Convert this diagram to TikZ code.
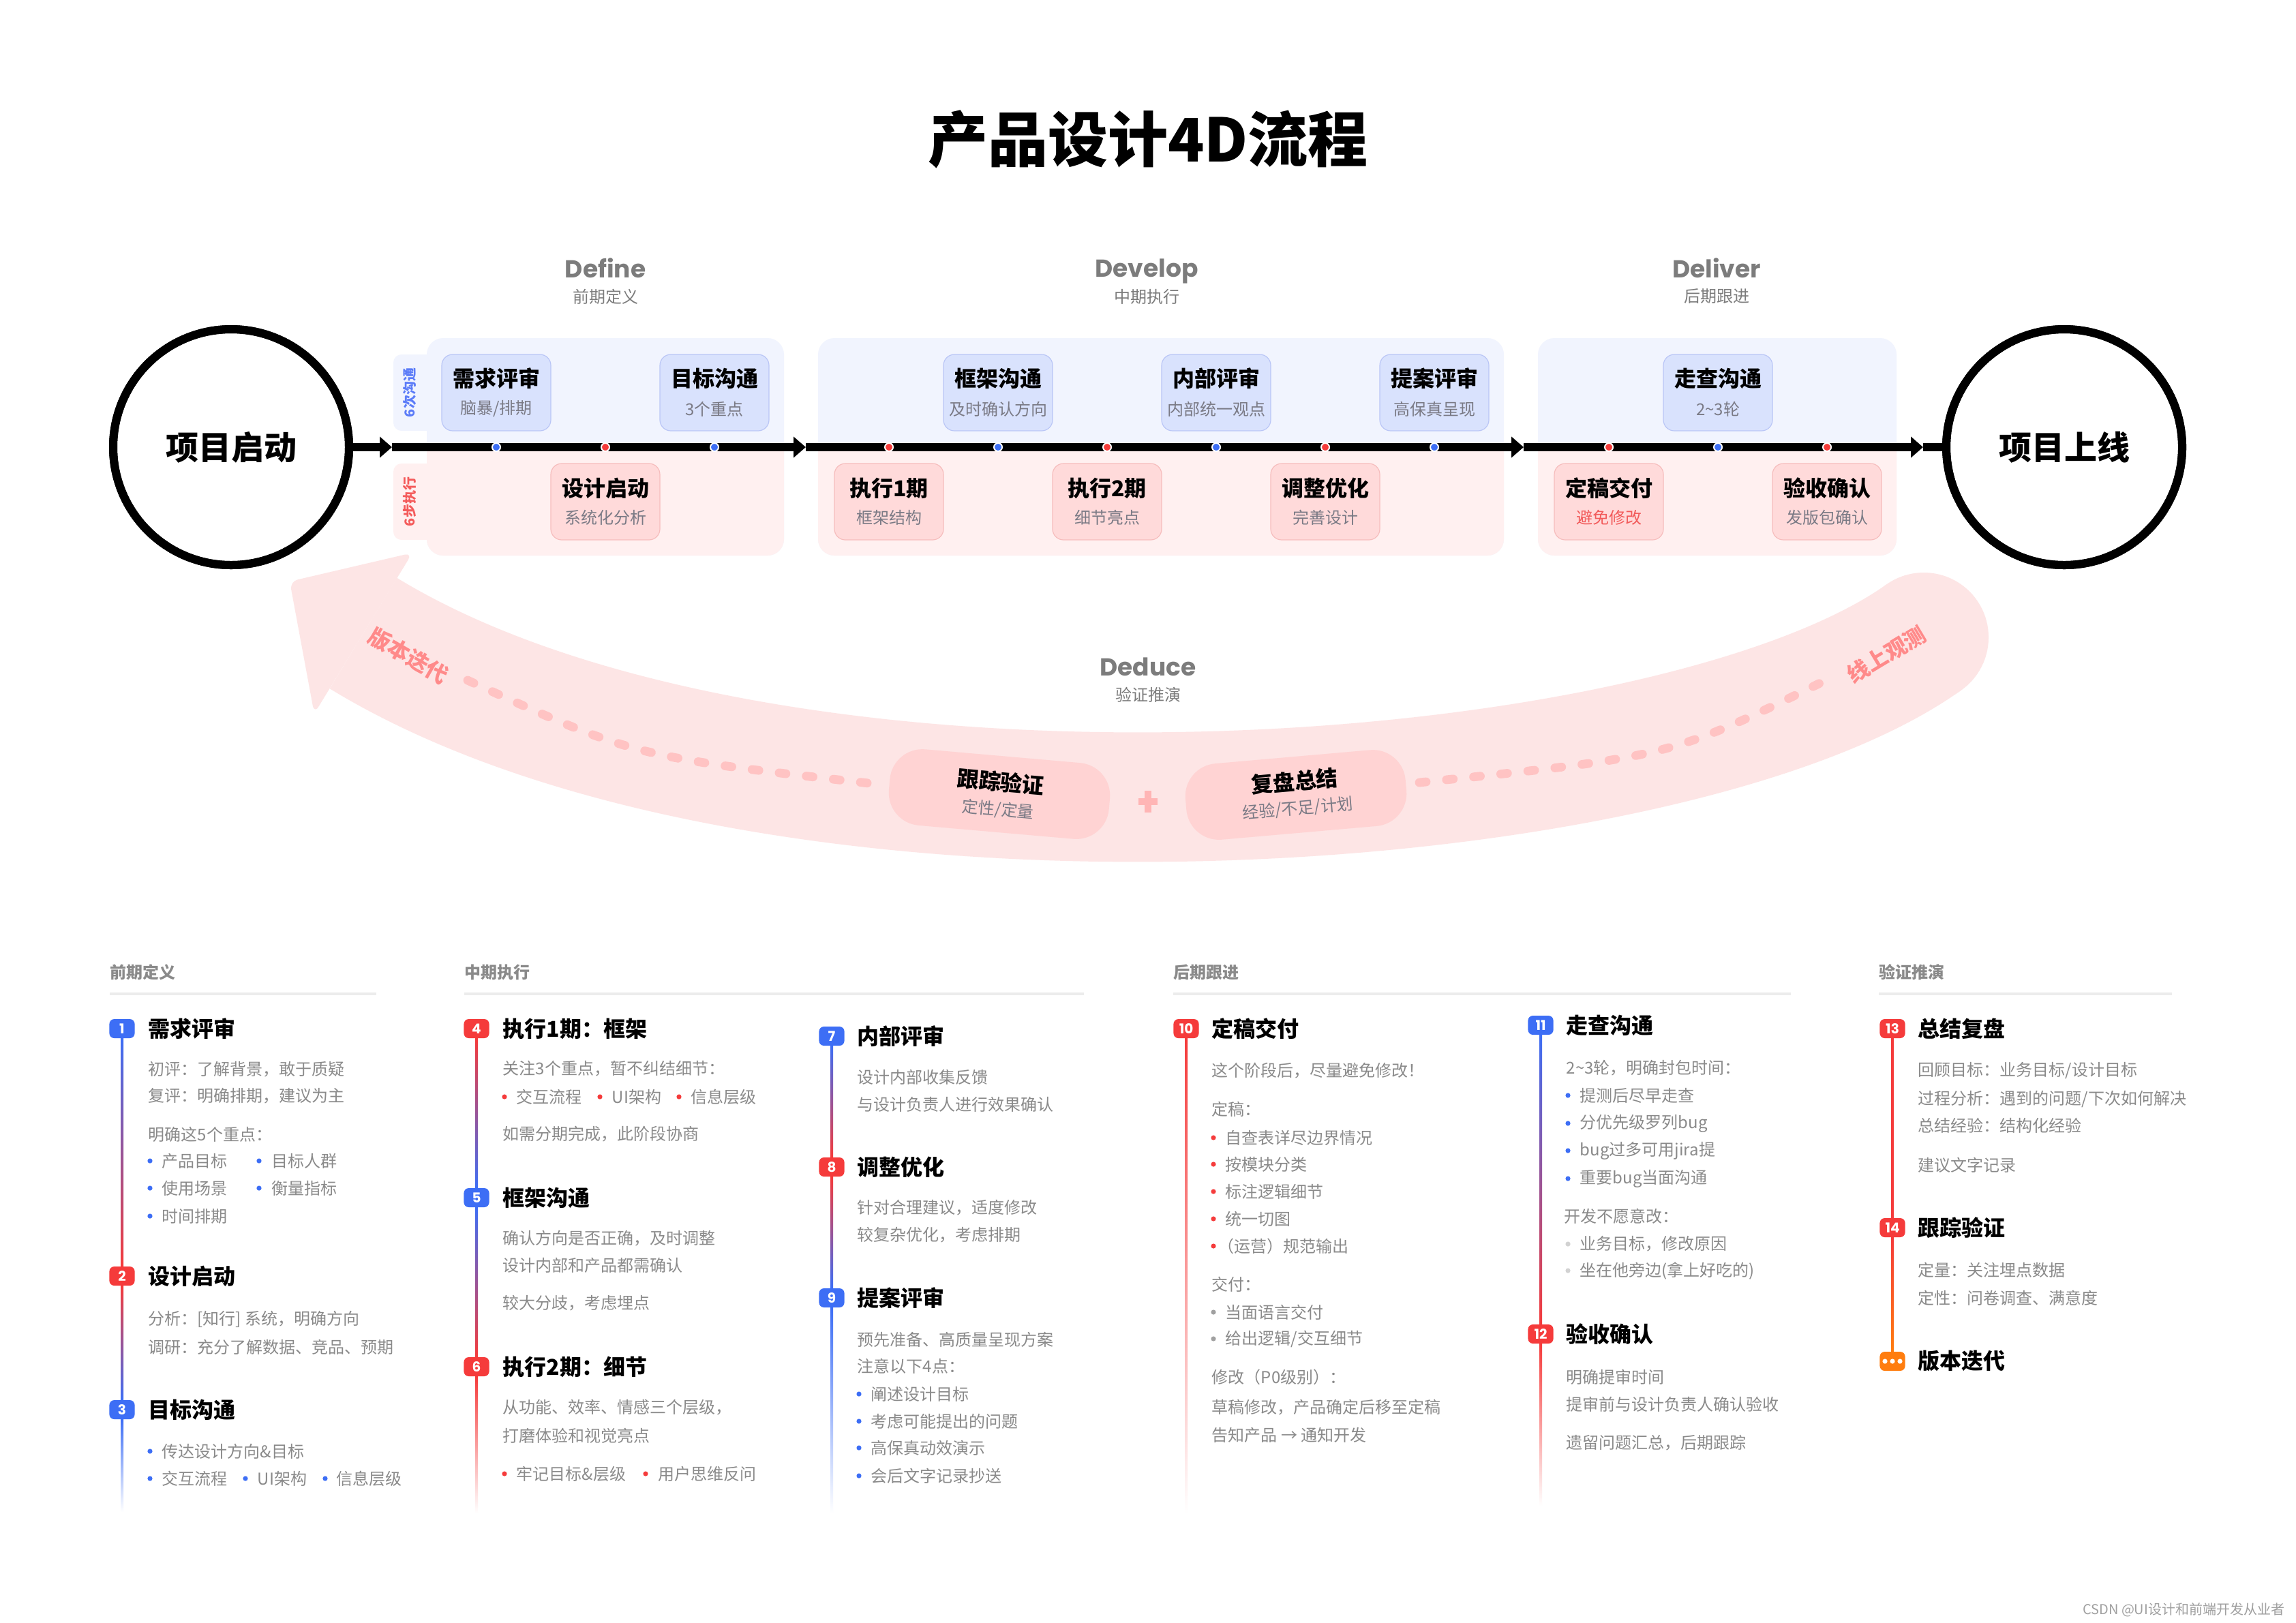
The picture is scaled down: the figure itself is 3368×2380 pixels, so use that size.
\documentclass[tikz,border=0pt]{standalone}
\usepackage{fontspec}
\setmainfont{Noto Sans CJK SC}
\newfontfamily\pop{Poppins}
\usetikzlibrary{arrows.meta}
\definecolor{cblue}{HTML}{3D6EF5}
\definecolor{cred}{HTML}{F53B3B}
\definecolor{corange}{HTML}{FF7D0F}
\definecolor{bandpink}{HTML}{FDE5E5}
\definecolor{pillpink}{HTML}{FFD3D3}
\definecolor{dashpink}{HTML}{FFC3C3}
\definecolor{pluspink}{HTML}{FFB5B5}
\definecolor{labelpink}{HTML}{FF8A8A}
\definecolor{panelB}{HTML}{F1F4FE}
\definecolor{panelR}{HTML}{FFF0F0}
\definecolor{cardBfill}{HTML}{D9E2FD}
\definecolor{cardBline}{HTML}{BAC6F6}
\definecolor{cardRfill}{HTML}{FFDADA}
\definecolor{cardRline}{HTML}{F6BDBD}
\definecolor{subgray}{HTML}{7A7A85}
\definecolor{subred}{HTML}{F25A5A}
\definecolor{bodygray}{HTML}{8A8A8A}
\definecolor{headgray}{HTML}{8A8A8A}
\definecolor{phasegray}{HTML}{7C7C7C}
\definecolor{rulegray}{HTML}{ECECEC}
\definecolor{tabblue}{HTML}{5C7CF8}
\definecolor{tabred}{HTML}{F45B5B}
\definecolor{lgray}{HTML}{A0A0A0}
\definecolor{llgray}{HTML}{D2D2D2}
\definecolor{lav}{HTML}{B9AEE6}
\newcommand\myfs[1]{\fontsize{#1}{#1}\selectfont}
\newcommand\bt[4]{\node[body] (#1) at (#2,#3) {#4};}
\newcommand\bul[6]{\fill[#1] (#2,#4) circle[radius=0.9pt]; \node[body] (#5) at (#3,#4) {#6};}
\newcommand\cardTop[4]{\node[cardB] (#1) at (#2,576) {}; \node[ctitle] (#1t) at (#2,555) {#3}; \node[csub] (#1s) at (#2,600) {#4};}
\newcommand\cardBot[5]{\node[cardR] (#1) at (#2,736) {}; \node[ctitle] (#1t) at (#2,716) {#3}; \node[csub,#5] (#1s) at (#2,759) {#4};}
\newcommand\phasepanel[2]{%
  \fill[panelB, rounded corners=6pt] (#1,496) rectangle (#2,815);
  \begin{scope}\clip (#1-5,656) rectangle (#2+5,830);
  \fill[panelR, rounded corners=6pt] (#1,496) rectangle (#2,815);\end{scope}}
\begin{document}
\begin{tikzpicture}[x=0.25pt,y=-0.25pt,
  body/.style={anchor=west,inner sep=0pt,font=\myfs{6},text=bodygray},
  ititle/.style={anchor=west,inner sep=0pt,font=\myfs{8}\bfseries,text=black},
  head/.style={anchor=west,inner sep=0pt,font=\myfs{6}\bfseries,text=headgray},
  rule/.style={draw=rulegray,line width=1pt},
  badge/.style={fill=#1,rounded corners=1.8pt,minimum width=9.3pt,minimum height=7pt,inner sep=0pt,text=white,font=\pop\bfseries\myfs{5}},
  cardB/.style={draw=cardBline,fill=cardBfill,line width=0.3pt,rounded corners=4pt,minimum width=40pt,minimum height=28pt},
  cardR/.style={draw=cardRline,fill=cardRfill,line width=0.3pt,rounded corners=4pt,minimum width=40pt,minimum height=28pt},
  ctitle/.style={inner sep=0pt,font=\myfs{8}\bfseries,text=black},
  csub/.style={inner sep=0pt,font=\myfs{6},text=subgray},
  phase/.style={inner sep=0pt,font=\pop\bfseries\myfs{9},text=phasegray,text depth=0pt},
  phasesub/.style={inner sep=0pt,font=\myfs{6},text=phasegray},
  bigc/.style={circle,draw=black,line width=3pt,fill=white,minimum size=86.5pt,inner sep=0pt,font=\myfs{12}\bfseries},
  axis/.style={line width=3pt,-{Triangle[length=4.5pt,width=7.5pt]}},
  dotB/.style={fill=cblue,draw=white,line width=0.5pt},
  dotR/.style={fill=cred,draw=white,line width=0.5pt},
  tabt/.style={inner sep=0pt,font=\myfs{5}\bfseries,rotate=90},
  pill/.style={fill=pillpink,rounded corners=12pt,minimum width=81pt,minimum height=28pt,inner sep=0pt},
  ptitle/.style={inner sep=0pt,font=\myfs{8}\bfseries,text=black},
  psub/.style={inner sep=0pt,font=\myfs{6},text=subgray},
  dashline/.style={draw=dashpink,line width=3.2pt,line cap=round,dash pattern=on 2.5pt off 7.5pt},
  plusst/.style={draw=pluspink,line width=2.4pt},
  bandlabel/.style={inner sep=0pt,font=\myfs{8}\bfseries,text=labelpink}
]
\useasboundingbox (0,0) rectangle (3368,2380);
\fill[white] (0,0) rectangle (3368,2380);

% ---------- title ----------
\node[font=\myfs{22}\bfseries,inner sep=0pt] (title) at (1684,204) {产品设计4D流程};

% ---------- Deduce band ----------
\fill[bandpink] (2822,935) circle[radius=23.75pt];
\draw[bandpink, line width=47.5pt] (533,929) .. controls (1131,1294) and (2450,1200) .. (2822,935);
\fill[bandpink, rounded corners=3pt] (425,853) -- (461,1047) -- (605,811) -- cycle;
\draw[dashline] (686,998) .. controls (930,1110) .. (1283,1150);
\draw[dashline] (2082,1148) .. controls (2450,1110) .. (2672,1001);
\node[pill, rotate=-5] (p1) at (1466,1165) {};
\node[ptitle, rotate=-5] (p1t) at (1468,1147) {跟踪验证};
\node[psub, rotate=-5] (p1s) at (1464,1188) {定性/定量};
\node[pill, rotate=5] (p2) at (1901,1166) {};
\node[ptitle, rotate=5] (p2t) at (1899,1146) {复盘总结};
\node[psub, rotate=5] (p2s) at (1904,1186) {经验/不足/计划};
\coordinate (pl) at (1684,1176);
\draw[plusst] ([yshift=4pt]pl) -- ([yshift=-4pt]pl);
\draw[plusst] ([xshift=-3.5pt]pl) -- ([xshift=3.5pt]pl);
\node[bandlabel, rotate=-30] (lbl1) at (599,962) {版本迭代};
\node[bandlabel, rotate=31] (lbl2) at (2767,960) {线上观测};
\node[phase] (dd) at (1684,978) {Deduce};
\node[phasesub] (dds) at (1684,1019) {验证推演};

% ---------- phase headers ----------
\node[phase] (ph1) at (888,393) {Define};
\node[phasesub] (ph1s) at (888,435) {前期定义};
\node[phase] (ph2) at (1682,393) {Develop};
\node[phasesub] (ph2s) at (1682,435) {中期执行};
\node[phase] (ph3) at (2518,393) {Deliver};
\node[phasesub] (ph3s) at (2518,435) {后期跟进};

% ---------- panels ----------
\phasepanel{626}{1150}
\phasepanel{1200}{2206}
\phasepanel{2256}{2782}
\fill[panelB, rounded corners=3pt] (577,520) rectangle (640,632);
\fill[panelR, rounded corners=3pt] (577,680) rectangle (640,792);
\node[tabt, text=tabblue] (tab1) at (601,576) {6次沟通};
\node[tabt, text=tabred] (tab2) at (601,736) {6步执行};

% ---------- cards ----------
\cardTop{k1}{728}{需求评审}{脑暴/排期}
\cardBot{k2}{888}{设计启动}{系统化分析}{}
\cardTop{k3}{1048}{目标沟通}{3个重点}
\cardBot{k4}{1304}{执行1期}{框架结构}{}
\cardTop{k5}{1464}{框架沟通}{及时确认方向}
\cardBot{k6}{1624}{执行2期}{细节亮点}{}
\cardTop{k7}{1784}{内部评审}{内部统一观点}
\cardBot{k8}{1944}{调整优化}{完善设计}{}
\cardTop{k9}{2104}{提案评审}{高保真呈现}
\cardBot{k10}{2360}{定稿交付}{避免修改}{text=subred}
\cardTop{k11}{2520}{走查沟通}{2\textasciitilde3轮}
\cardBot{k12}{2680}{验收确认}{发版包确认}{}

% ---------- axis ----------
\node[bigc] (start) at (339,656) {项目启动};
\node[bigc] (finish) at (3028,656) {项目上线};
\coordinate (a1) at (575,656);
\coordinate (a2) at (1182,656);
\coordinate (a3) at (2235,656);
\coordinate (a4) at (2821,656);
\draw[axis] (start.east) -- (a1);
\draw[axis] (a1) -- (a2);
\draw[axis] (a2) -- (a3);
\draw[axis] (a3) -- (a4);
\draw[line width=3pt] (a4) -- (finish.west);
\draw[black, line width=3pt] (start.center) circle[radius=43.25pt];
\draw[black, line width=3pt] (finish.center) circle[radius=43.25pt];
\foreach \xx in {728,1048,1464,1784,2104,2520} {\filldraw[dotB] (\xx,656) circle[radius=1.5pt];}
\foreach \xx in {888,1304,1624,1944,2360,2680} {\filldraw[dotR] (\xx,656) circle[radius=1.5pt];}

% ---------- bottom headers ----------
\node[head] (h1) at (161,1426) {前期定义};
\draw[rule] (161,1458) -- (552,1458);
\node[head] (h2) at (681,1426) {中期执行};
\draw[rule] (681,1458) -- (1590,1458);
\node[head] (h3) at (1721,1426) {后期跟进};
\draw[rule] (1721,1458) -- (2627,1458);
\node[head] (h4) at (2756,1426) {验证推演};
\draw[rule] (2756,1458) -- (3186,1458);

% ---------- column 1 ----------
\shade[top color=cblue,bottom color=cred] (177,1523) rectangle (181,1858);
\shade[top color=cred,bottom color=cblue] (177,1886) rectangle (181,2054);
\shade[top color=cblue,bottom color=white] (177,2082) rectangle (181,2218);
\node[badge=cblue] (n1) at (179,1509) {1};
\node[ititle] (t1) at (217,1509) {需求评审};
\bt{c1a}{217}{1569}{初评：了解背景，敢于质疑}
\bt{c1b}{217}{1608}{复评：明确排期，建议为主}
\bt{c1c}{217}{1664}{明确这5个重点：}
\bul{cblue}{220}{237}{1703}{c1d}{产品目标}
\bul{cblue}{380}{398}{1703}{c1e}{目标人群}
\bul{cblue}{220}{237}{1743}{c1f}{使用场景}
\bul{cblue}{380}{398}{1743}{c1g}{衡量指标}
\bul{cblue}{220}{237}{1784}{c1h}{时间排期}
\node[badge=cred] (n2) at (179,1872) {2};
\node[ititle] (t2) at (217,1872) {设计启动};
\bt{c2a}{217}{1935}{分析：[知行] 系统，明确方向}
\bt{c2b}{217}{1976}{调研：充分了解数据、竞品、预期}
\node[badge=cblue] (n3) at (179,2068) {3};
\node[ititle] (t3) at (217,2068) {目标沟通};
\bul{cblue}{220}{237}{2129}{c3a}{传达设计方向\&目标}
\bul{cblue}{220}{237}{2169}{c3b}{交互流程}
\bul{cblue}{360}{377}{2169}{c3c}{UI架构}
\bul{cblue}{477}{493}{2169}{c3d}{信息层级}

% ---------- column 2 ----------
\shade[top color=cred,bottom color=cblue] (697,1523) rectangle (701,1743);
\shade[top color=cblue,bottom color=cred] (697,1771) rectangle (701,1991);
\shade[top color=cred,bottom color=white] (697,2019) rectangle (701,2220);
\node[badge=cred] (n4) at (699,1509) {4};
\node[ititle] (t4) at (737,1509) {执行1期：框架};
\bt{c4a}{737}{1568}{关注3个重点，暂不纠结细节：}
\bul{cred}{740}{757}{1609}{c4b}{交互流程}
\bul{cred}{880}{897}{1609}{c4c}{UI架构}
\bul{cred}{996}{1013}{1609}{c4d}{信息层级}
\bt{c4e}{737}{1664}{如需分期完成，此阶段协商}
\node[badge=cblue] (n5) at (699,1757) {5};
\node[ititle] (t5) at (737,1757) {框架沟通};
\bt{c5a}{737}{1817}{确认方向是否正确，及时调整}
\bt{c5b}{737}{1856}{设计内部和产品都需确认}
\bt{c5c}{737}{1912}{较大分歧，考虑埋点}
\node[badge=cred] (n6) at (699,2005) {6};
\node[ititle] (t6) at (737,2005) {执行2期：细节};
\bt{c6a}{737}{2065}{从功能、效率、情感三个层级，}
\bt{c6b}{737}{2106}{打磨体验和视觉亮点}
\bul{cred}{740}{757}{2162}{c6c}{牢记目标\&层级}
\bul{cred}{947}{965}{2162}{c6d}{用户思维反问}

% ---------- column 3 ----------
\shade[top color=cblue,bottom color=cred] (1218,1534) rectangle (1222,1698);
\shade[top color=cred,bottom color=cblue] (1218,1726) rectangle (1222,1890);
\shade[top color=cblue,bottom color=white] (1218,1918) rectangle (1222,2220);
\node[badge=cblue] (n7) at (1220,1520) {7};
\node[ititle] (t7) at (1257,1520) {内部评审};
\bt{c7a}{1257}{1580}{设计内部收集反馈}
\bt{c7b}{1257}{1620}{与设计负责人进行效果确认}
\node[badge=cred] (n8) at (1220,1712) {8};
\node[ititle] (t8) at (1257,1712) {调整优化};
\bt{c8a}{1257}{1772}{针对合理建议，适度修改}
\bt{c8b}{1257}{1812}{较复杂优化，考虑排期}
\node[badge=cblue] (n9) at (1220,1904) {9};
\node[ititle] (t9) at (1257,1904) {提案评审};
\bt{c9a}{1257}{1965}{预先准备、高质量呈现方案}
\bt{c9b}{1257}{2004}{注意以下4点：}
\bul{cblue}{1260}{1277}{2045}{c9c}{阐述设计目标}
\bul{cblue}{1260}{1277}{2085}{c9d}{考虑可能提出的问题}
\bul{cblue}{1260}{1277}{2124}{c9e}{高保真动效演示}
\bul{cblue}{1260}{1277}{2165}{c9f}{会后文字记录抄送}

% ---------- column 4 ----------
\shade[top color=cred,middle color=lav,bottom color=white] (1738,1523) rectangle (1742,2220);
\node[badge=cred] (n10) at (1740,1509) {10};
\node[ititle] (t10) at (1777,1509) {定稿交付};
\bt{c10a}{1777}{1571}{这个阶段后，尽量避免修改！}
\bt{c10b}{1777}{1627}{定稿：}
\bul{cred}{1780}{1797}{1669}{c10c}{自查表详尽边界情况}
\bul{cred}{1780}{1797}{1708}{c10d}{按模块分类}
\bul{cred}{1780}{1797}{1748}{c10e}{标注逻辑细节}
\bul{cred}{1780}{1797}{1788}{c10f}{统一切图}
\bul{cred}{1780}{1786}{1828}{c10g}{（运营）规范输出}
\bt{c10h}{1777}{1884}{交付：}
\bul{lgray}{1780}{1797}{1925}{c10i}{当面语言交付}
\bul{lgray}{1780}{1797}{1964}{c10j}{给出逻辑/交互细节}
\bt{c10k}{1777}{2020}{修改（P0级别）：}
\bt{c10l}{1777}{2065}{草稿修改，产品确定后移至定稿}
\bt{c10m}{1777}{2105}{告知产品 → 通知开发}

% ---------- column 5 ----------
\shade[top color=cblue,bottom color=cred] (2258,1518) rectangle (2262,1943);
\shade[top color=cred,bottom color=white] (2258,1971) rectangle (2262,2209);
\node[badge=cblue] (n11) at (2260,1504) {11};
\node[ititle] (t11) at (2297,1504) {走查沟通};
\bt{c11a}{2297}{1567}{2\textasciitilde3轮，明确封包时间：}
\bul{cblue}{2300}{2317}{1607}{c11b}{提测后尽早走查}
\bul{cblue}{2300}{2317}{1648}{c11c}{分优先级罗列bug}
\bul{cblue}{2300}{2317}{1688}{c11d}{bug过多可用jira提}
\bul{cblue}{2300}{2317}{1729}{c11e}{重要bug当面沟通}
\bt{c11f}{2294}{1784}{开发不愿意改：}
\bul{llgray}{2300}{2317}{1825}{c11g}{业务目标，修改原因}
\bul{llgray}{2300}{2317}{1864}{c11h}{坐在他旁边(拿上好吃的)}
\node[badge=cred] (n12) at (2260,1957) {12};
\node[ititle] (t12) at (2297,1957) {验收确认};
\bt{c12a}{2297}{2020}{明确提审时间}
\bt{c12b}{2297}{2060}{提审前与设计负责人确认验收}
\bt{c12c}{2297}{2117}{遗留问题汇总，后期跟踪}

% ---------- column 6 ----------
\fill[cred] (2774,1523) rectangle (2778,1787);
\shade[top color=cred,bottom color=corange] (2774,1815) rectangle (2778,1983);
\node[badge=cred] (n13) at (2776,1509) {13};
\node[ititle] (t13) at (2813,1509) {总结复盘};
\bt{c13a}{2813}{1571}{回顾目标：业务目标/设计目标}
\bt{c13b}{2813}{1612}{过程分析：遇到的问题/下次如何解决}
\bt{c13c}{2813}{1651}{总结经验：结构化经验}
\bt{c13d}{2813}{1709}{建议文字记录}
\node[badge=cred] (n14) at (2776,1801) {14};
\node[ititle] (t14) at (2813,1801) {跟踪验证};
\bt{c14a}{2813}{1863}{定量：关注埋点数据}
\bt{c14b}{2813}{1904}{定性：问卷调查、满意度}
\node[badge=corange] (n15) at (2776,1997) {};
\foreach \xx in {2765,2776,2787} {\fill[white] (\xx,1997) circle[radius=0.9pt];}
\node[ititle] (t15) at (2813,1997) {版本迭代};

% ---------- footer ----------
\node[anchor=east,inner sep=0pt,font=\myfs{5},text=lgray] (foot) at (3352,2362) {CSDN @UI设计和前端开发从业者};
\end{tikzpicture}
\end{document}
